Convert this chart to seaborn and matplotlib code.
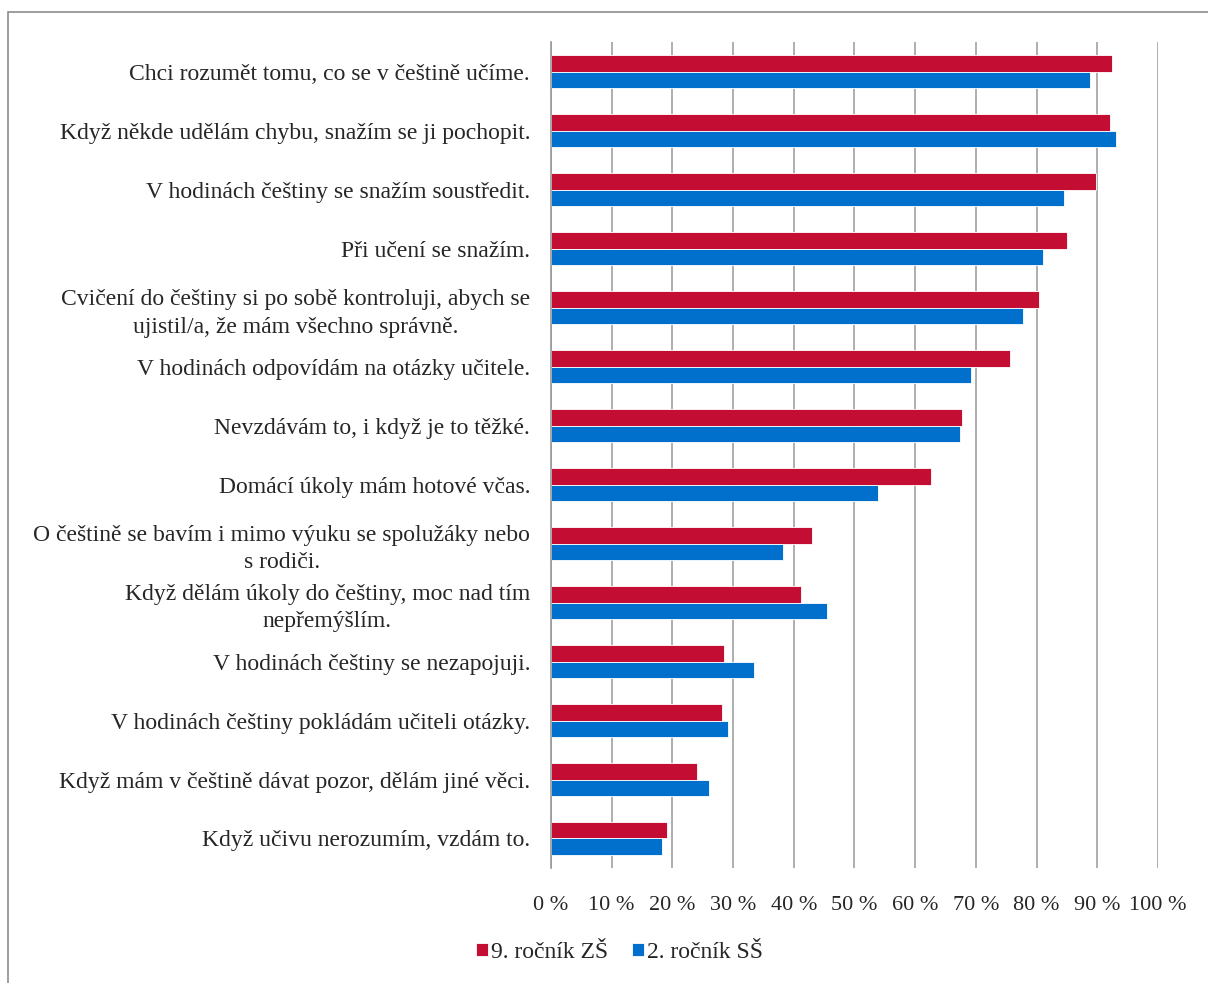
import numpy as np
import pandas as pd
import matplotlib
matplotlib.use("Agg")
import matplotlib.pyplot as plt
import seaborn as sns
from matplotlib.patches import Rectangle

# statements (top to bottom)
statements = [
    "Chci rozumět tomu, co se v češtině učíme.",
    "Když někde udělám chybu, snažím se ji pochopit.",
    "V hodinách češtiny se snažím soustředit.",
    "Při učení se snažím.",
    "Cvičení do češtiny si po sobě kontroluji, abych se\nujistil/a, že mám všechno správně.",
    "V hodinách odpovídám na otázky učitele.",
    "Nevzdávám to, i když je to těžké.",
    "Domácí úkoly mám hotové včas.",
    "O češtině se bavím i mimo výuku se spolužáky nebo\ns rodiči.",
    "Když dělám úkoly do češtiny, moc nad tím\nnepřemýšlím.",
    "V hodinách češtiny se nezapojuji.",
    "V hodinách češtiny pokládám učiteli otázky.",
    "Když mám v češtině dávat pozor, dělám jiné věci.",
    "Když učivu nerozumím, vzdám to.",
]
zs9 = [92.4, 92.1, 89.8, 85.0, 80.4, 75.6, 67.7, 62.6, 43.0, 41.2, 28.5, 28.2, 24.1, 19.1]
ss2 = [88.8, 93.1, 84.5, 81.1, 77.8, 69.2, 67.4, 53.9, 38.2, 45.5, 33.4, 29.2, 26.0, 18.3]
groups = ["9. ročník ZŠ", "2. ročník SŠ"]
colors = ["#C40D32", "#0070CC"]
xticks = [0, 10, 20, 30, 40, 50, 60, 70, 80, 90, 100]

df = pd.DataFrame({
    "statement": statements * 2,
    "value": zs9 + ss2,
    "group": [groups[0]] * len(statements) + [groups[1]] * len(statements),
})

sns.set_style("white")
plt.rcParams["font.family"] = ["Liberation Serif", "DejaVu Serif"]

fig = plt.figure(figsize=(12.08, 9.83), dpi=100)
ax = fig.add_axes([0.456, 0.117, 0.5026, 0.840])

sns.barplot(data=df, y="statement", x="value", hue="group", hue_order=groups,
            palette=colors, saturation=1, orient="h", width=0.56, ax=ax,
            legend=True, edgecolor="white", linewidth=0.6)

ax.set_xlim(0, 100)
ax.set_ylim(len(statements) - 0.5, -0.5)
ax.set_xlabel("")
ax.set_ylabel("")
ax.set_xticks(xticks)
ax.set_xticklabels([f"{t} %" for t in xticks], fontsize=16)
ax.tick_params(axis="x", length=0, pad=20)
ax.tick_params(axis="y", which="major", length=0, pad=15, labelsize=17)
ax.set_yticks(np.arange(-0.5, len(statements)), minor=True)
ax.tick_params(axis="y", which="minor", length=6, color="#999999", width=1.2)
for lab in ax.get_yticklabels():
    lab.set_multialignment("center")
    lab.set_linespacing(1.4)

ax.grid(axis="x", color="#999999", linewidth=1.1)
ax.set_axisbelow(True)
for s in ["top", "right", "bottom"]:
    ax.spines[s].set_visible(False)
ax.spines["left"].set_color("#999999")
ax.spines["left"].set_linewidth(1.2)

h, l = ax.get_legend_handles_labels()
ax.legend_.remove()
fig.legend(h, l, loc="center", bbox_to_anchor=(0.513, 0.031), ncol=2, frameon=False,
           fontsize=17, handlelength=0.5, handleheight=0.5, handletextpad=0.15,
           columnspacing=1.0)

# outer frame
fig.patches.append(Rectangle((8 / 1208, -0.1), 1.2, 1 - 12 / 983 + 0.1,
                             transform=fig.transFigure, fill=False,
                             edgecolor="#8c8c8c", linewidth=1.2))

fig.savefig("out.png", dpi=100)
